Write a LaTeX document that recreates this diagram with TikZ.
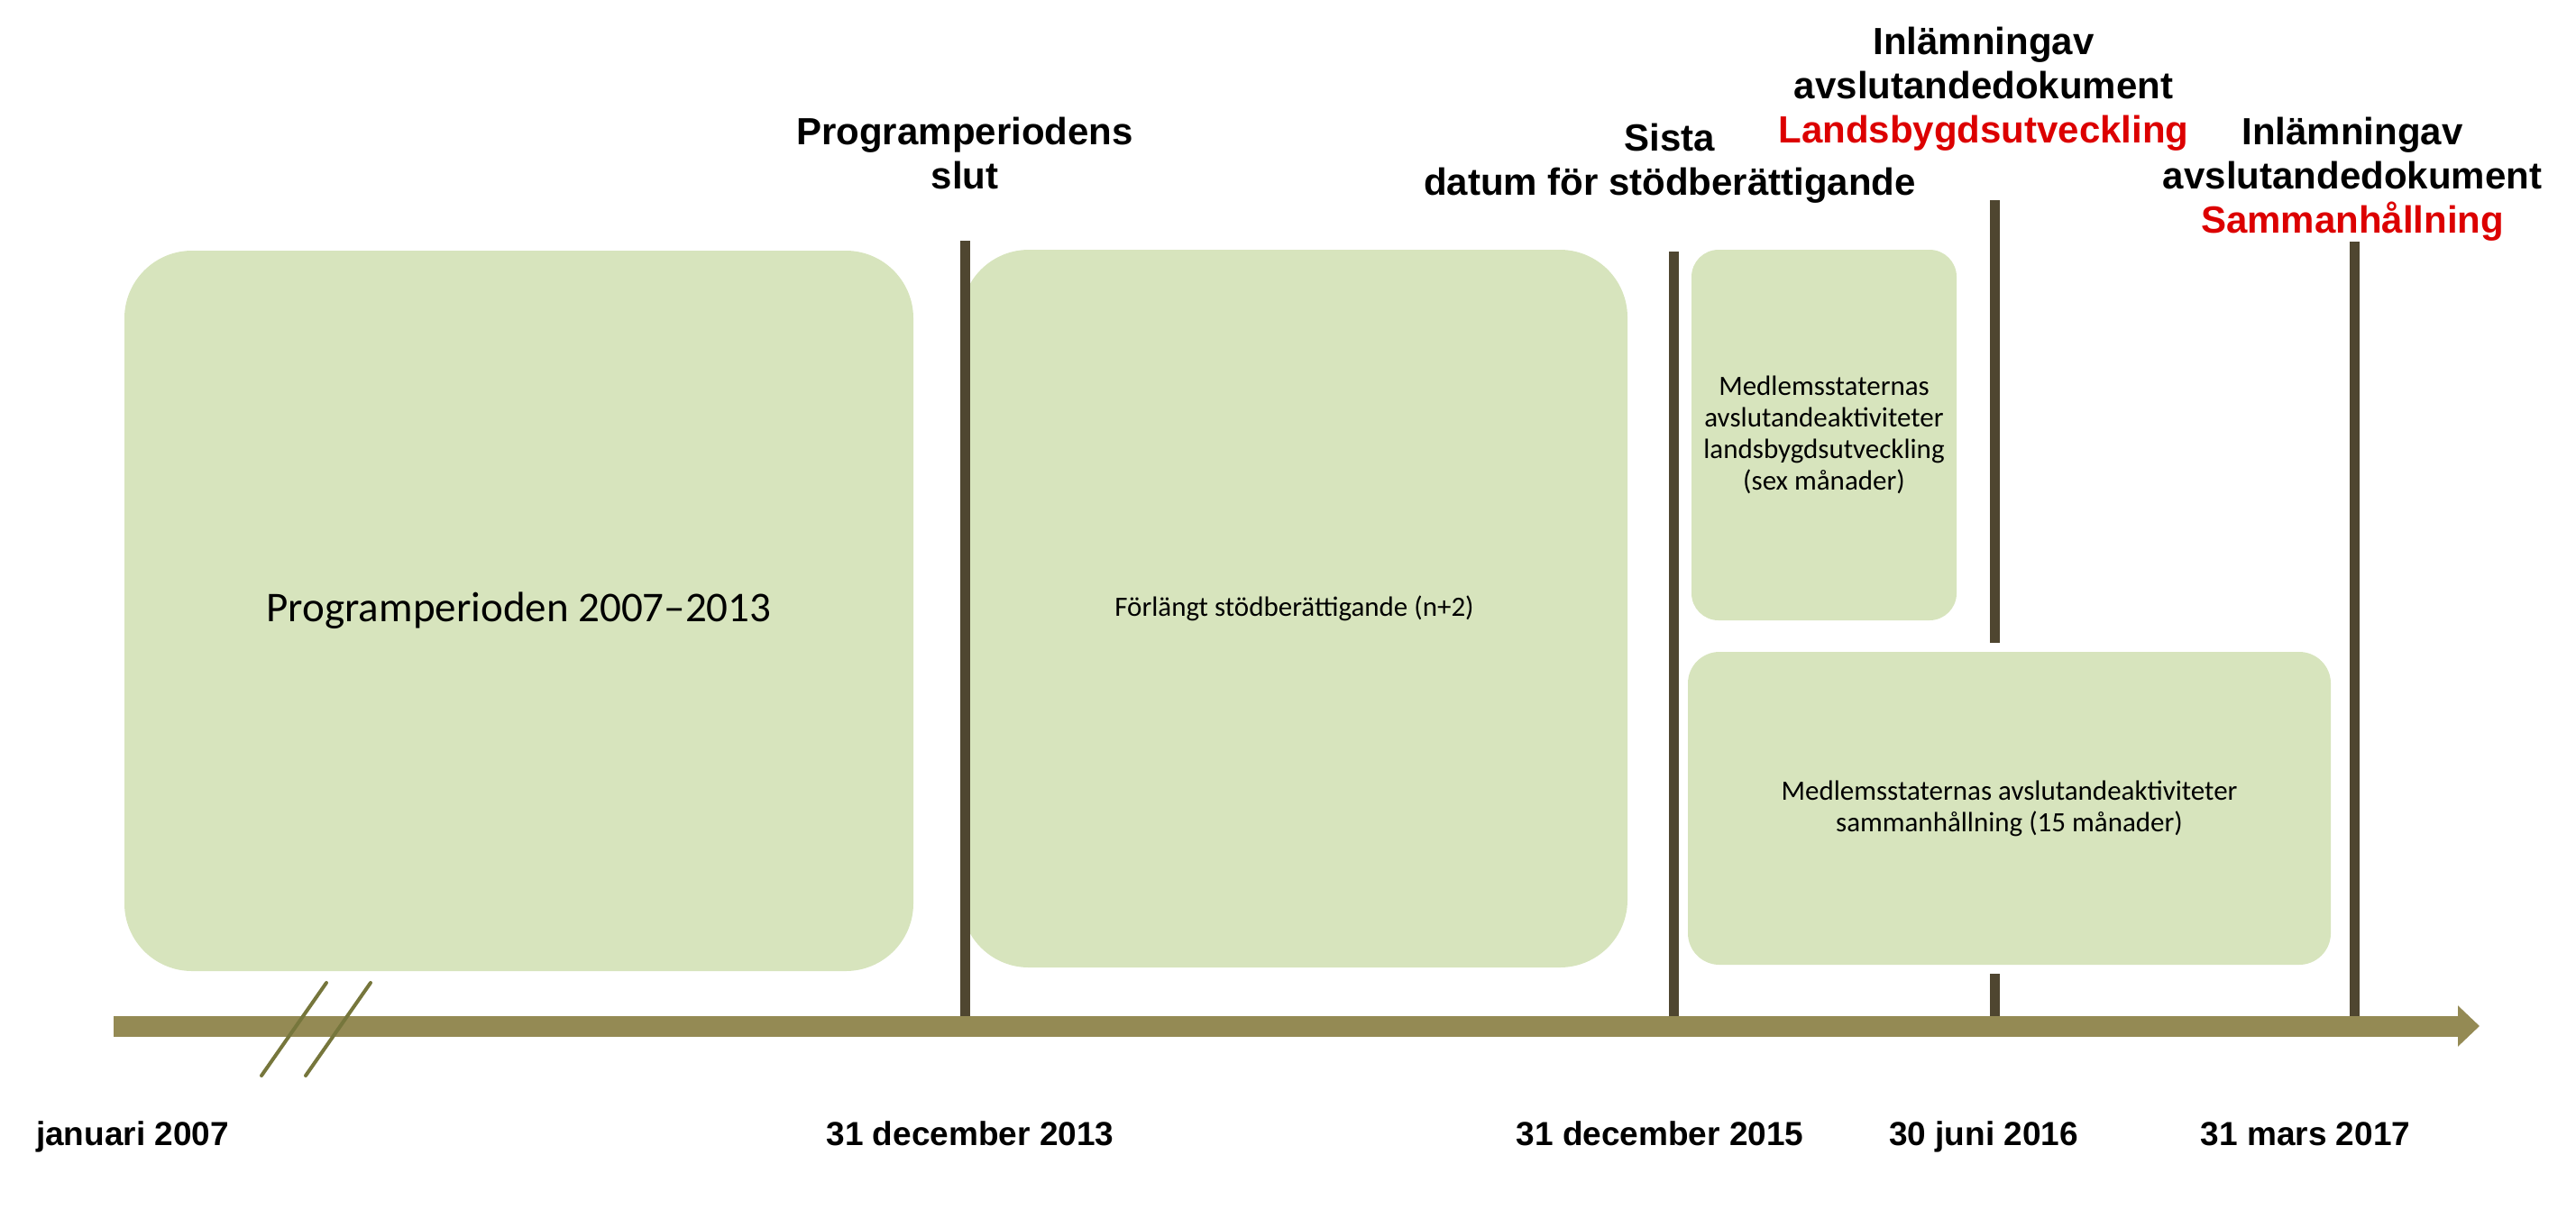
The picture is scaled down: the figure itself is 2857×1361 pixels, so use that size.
\documentclass[tikz,border=0pt]{standalone}
\usepackage{fontspec}
\setmainfont{Liberation Sans}
\newfontfamily\boxfont{Carlito}
\usetikzlibrary{arrows.meta}

\definecolor{boxgreen}{RGB}{215,228,189}
\definecolor{tickbrown}{RGB}{79,70,48}
\definecolor{axisolive}{RGB}{148,138,84}
\definecolor{breakolive}{RGB}{118,118,60}
\definecolor{labelred}{RGB}{220,0,0}

\begin{document}
\begin{tikzpicture}[
    x=0.5pt, y=-0.5pt,
    phase/.style={
% The shape:
rectangle,
      rounded corners=#1,
% The filling:
      fill=boxgreen,
% The text:
      inner sep=0pt,
      align=center,
      font=\boxfont\fontsize{15.5}{17.5}\selectfont
    },
    milestone/.style={
% The line:
      line width=5.5pt,
      draw=tickbrown
    },
    event/.style={
      anchor=north,
      inner sep=0pt,
      align=center,
      font=\bfseries\fontsize{21}{24.5}\selectfont
    },
    datelabel/.style={
      anchor=base,
      inner sep=0pt,
      font=\bfseries\fontsize{18.5}{22}\selectfont
    }]
  \useasboundingbox (0,0) rectangle (2857,1361);

  % the periods
  \node [phase=37.5pt, minimum width=437.5pt, minimum height=399.5pt,
    font=\boxfont\fontsize{23.5}{28}\selectfont] (period) at (575.5,677.5) {Programperioden 2007–2013};
  \node [phase=37.5pt, minimum width=369.5pt, minimum height=398pt] (extended) at (1435.5,675) {Förlängt stödberättigande (n+2)};
  \node [phase=15pt, minimum width=147pt, minimum height=205.5pt] (rural) at (2023,482.5)
    {Medlemsstaternas\\avslutandeaktiviteter\\landsbygdsutveckling\\(sex månader)};
  \node [phase=17.5pt, minimum width=356.5pt, minimum height=173.5pt] (cohesion) at (2228.5,896.5)
    {Medlemsstaternas avslutandeaktiviteter\\sammanhållning (15 månader)};

  \coordinate (axis start) at (126,1138);
  \coordinate (axis end) at (2750,1138);
  \coordinate (end2013) at (1070,267);
  \coordinate (end2015) at (1856,279);
  \coordinate (rural top) at (2212,222);
  \coordinate (rural under) at (2212,713);
  \coordinate (rural over) at (2212,1080);
  \coordinate (cohesion top) at (2611,268);

  % the milestones
  \draw [milestone] (end2013) -- (end2013 |- axis start);
  \draw [milestone] (end2015) -- (end2015 |- axis start);
  \draw [milestone] (rural top) -- (rural under);
  \draw [milestone] (rural over) -- (rural over |- axis start);
  \draw [milestone] (cohesion top) -- (cohesion top |- axis start);

  % the time axis
  \draw [line width=11.5pt, draw=axisolive, -{Triangle[length=12pt,width=22pt]}] (axis start) -- (axis end);
  \foreach \dx in {0,49}
    \draw [line width=2pt, draw=breakolive, line cap=round] (362+\dx,1090) -- (290+\dx,1193);

  \node [event] (progend) at (1070,130) {Programperiodens\\slut};
  \node [event] (lastdate) at (1852,137) {Sista\\datum för stödberättigande};
  \node [event] (ruraldoc) at (2200,30)
    {Inlämningav\\avslutandedokument\\\textcolor{labelred}{Landsbygdsutveckling}};
  \node [event] (cohesiondoc) at (2609,130)
    {Inlämningav\\avslutandedokument\\\textcolor{labelred}{Sammanhållning}};

  \node [datelabel] (d2007) at (147,1270) {januari 2007};
  \node [datelabel] (d2013) at (1076,1270) {31 december 2013};
  \node [datelabel] (d2015) at (1841,1270) {31 december 2015};
  \node [datelabel] (d2016) at (2200,1270) {30 juni 2016};
  \node [datelabel] (d2017) at (2557,1270) {31 mars 2017};
\end{tikzpicture}
\end{document}
